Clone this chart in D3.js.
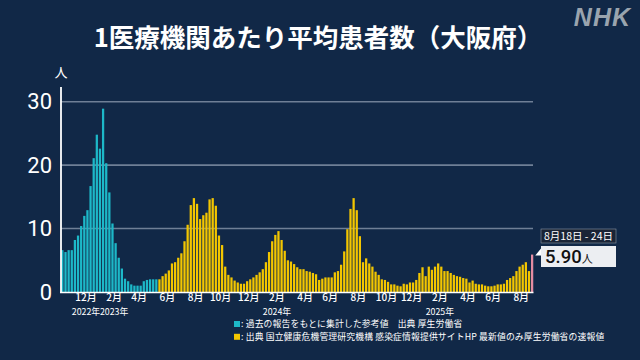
<!DOCTYPE html>
<html><head><meta charset="utf-8">
<script src="https://cdn.jsdelivr.net/npm/d3@7"></script>
<style>html,body{margin:0;padding:0;background:#112847;}svg{display:block}</style>
</head><body><svg id="c" width="640" height="360"></svg>
<script>
// ---- data ----
const titleText = "1医療機関あたり平均患者数（大阪府）";
const startWeek = "2022-10-03";
const refValues = [6.6, 6.3, 6.6, 6.6, 8.2, 8.9, 10.4, 12.0, 12.9, 16.7,
  21.1, 24.8, 22.6, 28.9, 20.3, 15.7, 10.8, 7.7, 5.4, 3.7,
  2.1, 1.7, 1.2, 1.0, 1.0, 1.0, 1.7, 1.9, 2.0, 2.0, 2.0];
const niidValues = [2.0, 2.5, 2.9, 3.4, 4.5, 4.7, 5.4, 6.1, 8.0, 10.6,
  13.7, 14.8, 13.9, 11.5, 12.1, 12.5, 14.6, 14.8, 13.6, 8.9,
  7.4, 4.0, 2.7, 2.3, 1.8, 1.5, 1.3, 1.3, 1.7, 2.0,
  2.3, 2.7, 3.1, 3.6, 4.7, 6.3, 8.0, 9.0, 9.6, 8.2,
  6.5, 5.0, 4.8, 4.4, 3.9, 3.6, 3.6, 3.3, 3.2, 3.0,
  2.8, 1.9, 2.1, 2.3, 2.3, 2.3, 3.1, 3.3, 4.3, 6.4,
  9.9, 13.1, 14.8, 12.9, 8.8, 4.7, 5.3, 4.5, 4.0, 3.2,
  2.7, 2.0, 1.9, 1.6, 1.2, 1.2, 1.0, 0.9, 1.3, 1.2,
  1.5, 1.5, 1.9, 3.0, 3.9, 2.5, 4.0, 3.5, 4.0, 4.5,
  4.0, 3.3, 3.3, 3.0, 2.7, 2.5, 2.4, 2.2, 2.1, 1.5,
  1.8, 1.3, 1.2, 1.2, 1.0, 0.9, 0.9, 1.0, 1.2, 1.2,
  1.3, 1.9, 2.2, 2.5, 3.3, 4.0, 4.3, 4.7, 3.3];
const latestValue = 5.90;
const latestLabel = "8月18日 - 24日";
const yTicks = [0, 10, 20, 30];
const monthTicks = ["2022-12","2023-02","2023-04","2023-06","2023-08","2023-10","2023-12",
  "2024-02","2024-04","2024-06","2024-08","2024-10","2024-12",
  "2025-02","2025-04","2025-06","2025-08"];
const yearTicks = ["2022-12","2023-02","2024-02","2025-02"];
const legendTexts = [": 過去の報告をもとに集計した参考値　出典 厚生労働省",
  ": 出典 国立健康危機管理研究機構 感染症情報提供サイトHP 最新値のみ厚生労働省の速報値"];
const colors = {ref: "#1db8c8", niid: "#f3c600", latest: "#e58ca2"};

// ---- build ----
const svg = d3.select("#c");
const JP = "'Noto Sans CJK JP','Noto Sans',sans-serif";
const NUM = "Roboto,'Noto Sans',sans-serif";
svg.append("rect").attr("width", 640).attr("height", 360).attr("fill", "#112847");

const start = new Date(startWeek + "T00:00:00Z");
const rows = refValues.map(v => ({v, kind: "ref"}))
  .concat(niidValues.map(v => ({v, kind: "niid"})))
  .concat([{v: latestValue, kind: "latest"}]);
rows.forEach((r, i) => r.week = +d3.utcDay.offset(start, 7 * i));

const x = d3.scaleBand().domain(rows.map(r => r.week)).range([61, 533.5])
  .paddingInner(0.28).paddingOuter(0.08);
const y = d3.scaleLinear().domain([0, 30]).range([292, 101.7]);

// title
svg.append("text").attr("x", 318).attr("y", 47).attr("text-anchor", "middle")
  .attr("font-family", JP).attr("font-weight", 700).attr("font-size", 25.5)
  .attr("fill", "#ffffff").text(titleText);
// NHK logo
svg.append("text").attr("x", 631).attr("y", 26).attr("text-anchor", "end")
  .attr("font-family", "'Liberation Sans',Arial,sans-serif").attr("font-weight", 700)
  .attr("font-style", "italic").attr("font-size", 25).attr("letter-spacing", 1)
  .attr("fill", "#9aa4ae").text("NHK");

// unit
svg.append("text").attr("x", 61).attr("y", 77).attr("text-anchor", "middle")
  .attr("font-family", JP).attr("font-size", 13).attr("fill", "#fff").text("人");

// grid + y axis
const yAxis = d3.axisLeft(y).tickValues(yTicks).tickSize(0).tickPadding(9);
const ga = svg.append("g").attr("transform", "translate(61,0)").call(yAxis);
ga.select(".domain").remove();
ga.selectAll("text").attr("font-family", NUM).attr("font-size", 22).attr("fill", "#fff");
svg.append("g").selectAll("line").data(yTicks.filter(t => t > 0)).join("line")
  .attr("x1", 61).attr("x2", 533).attr("y1", d => y(d)).attr("y2", d => y(d))
  .attr("stroke", "#6f7f96").attr("stroke-width", 1.6);

// bars
svg.append("g").selectAll("rect").data(rows).join("rect")
  .attr("x", d => x(d.week)).attr("width", x.bandwidth())
  .attr("y", d => y(d.v)).attr("height", d => y(0) - y(d.v))
  .attr("fill", d => colors[d.kind]);

// axis lines
svg.append("line").attr("x1", 61).attr("x2", 61).attr("y1", 87).attr("y2", 292.5)
  .attr("stroke", "#ffffff").attr("stroke-width", 1.8);
svg.append("line").attr("x1", 60).attr("x2", 533.5).attr("y1", 292.5).attr("y2", 292.5)
  .attr("stroke", "#ffffff").attr("stroke-width", 1.6);

// x ticks: week containing the 1st of each month
const weekOf = m => +d3.utcMonday.floor(new Date(m + "-01T00:00:00Z"));
const tickLabel = new Map(monthTicks.map(m => [weekOf(m), (+m.slice(5)) + "月"]));
const tickPos = m => x(weekOf(m)) + x.bandwidth() / 2 - 1.5;
const xAxis = d3.axisBottom(x).tickValues(monthTicks.map(weekOf))
  .tickFormat(w => tickLabel.get(w)).tickSize(0).tickPadding(2);
const gx = svg.append("g").attr("transform", "translate(-1.5,292)").call(xAxis);
gx.select(".domain").remove();
gx.selectAll("text").attr("font-family", JP).attr("font-size", 10).attr("font-weight", 500).attr("fill", "#fff");
svg.append("g").selectAll("text").data(yearTicks).join("text")
  .attr("x", m => tickPos(m)).attr("y", 314.5).attr("text-anchor", "middle")
  .attr("font-family", JP).attr("font-size", 8.8).attr("fill", "#fff")
  .text(m => m.slice(0, 4) + "年");

// callout
const last = rows[rows.length - 1];
const cx = 541, cw = 75;
svg.append("path").attr("d", `M${x(last.week) + x.bandwidth() + 2},${y(last.v) + 1} L${cx},${y(last.v) - 6} L${cx},${y(last.v) + 1} Z`).attr("fill", "#ffffff");
svg.append("rect").attr("x", cx).attr("y", 229).attr("width", cw).attr("height", 14)
  .attr("fill", "#1a2436").attr("stroke", "#8a96a6").attr("stroke-width", 0.6);
svg.append("text").attr("x", cx + cw / 2).attr("y", 240).attr("text-anchor", "middle")
  .attr("font-family", JP).attr("font-size", 10.5).attr("fill", "#fff").text(latestLabel);
svg.append("rect").attr("x", cx).attr("y", 246).attr("width", cw).attr("height", 21)
  .attr("fill", "#eceef2");
const vt = svg.append("text").attr("x", cx + 4).attr("y", 263)
  .attr("font-family", NUM).attr("fill", "#111");
vt.append("tspan").attr("font-size", 18.5).attr("font-weight", 500).text(d3.format(".2f")(latestValue));
vt.append("tspan").attr("font-family", JP).attr("font-size", 11).text("人");

// legend
const lg = svg.append("g");
[colors.ref, colors.niid].forEach((c, i) => {
  lg.append("rect").attr("x", 234).attr("y", 321 + i * 12.8).attr("width", 6).attr("height", 6).attr("fill", c);
  lg.append("text").attr("x", 241).attr("y", 327.3 + i * 12.8)
    .attr("font-family", JP).attr("font-size", 8.8).attr("letter-spacing", 0.15)
    .attr("fill", "#fff").text(legendTexts[i]);
});
</script></body></html>
